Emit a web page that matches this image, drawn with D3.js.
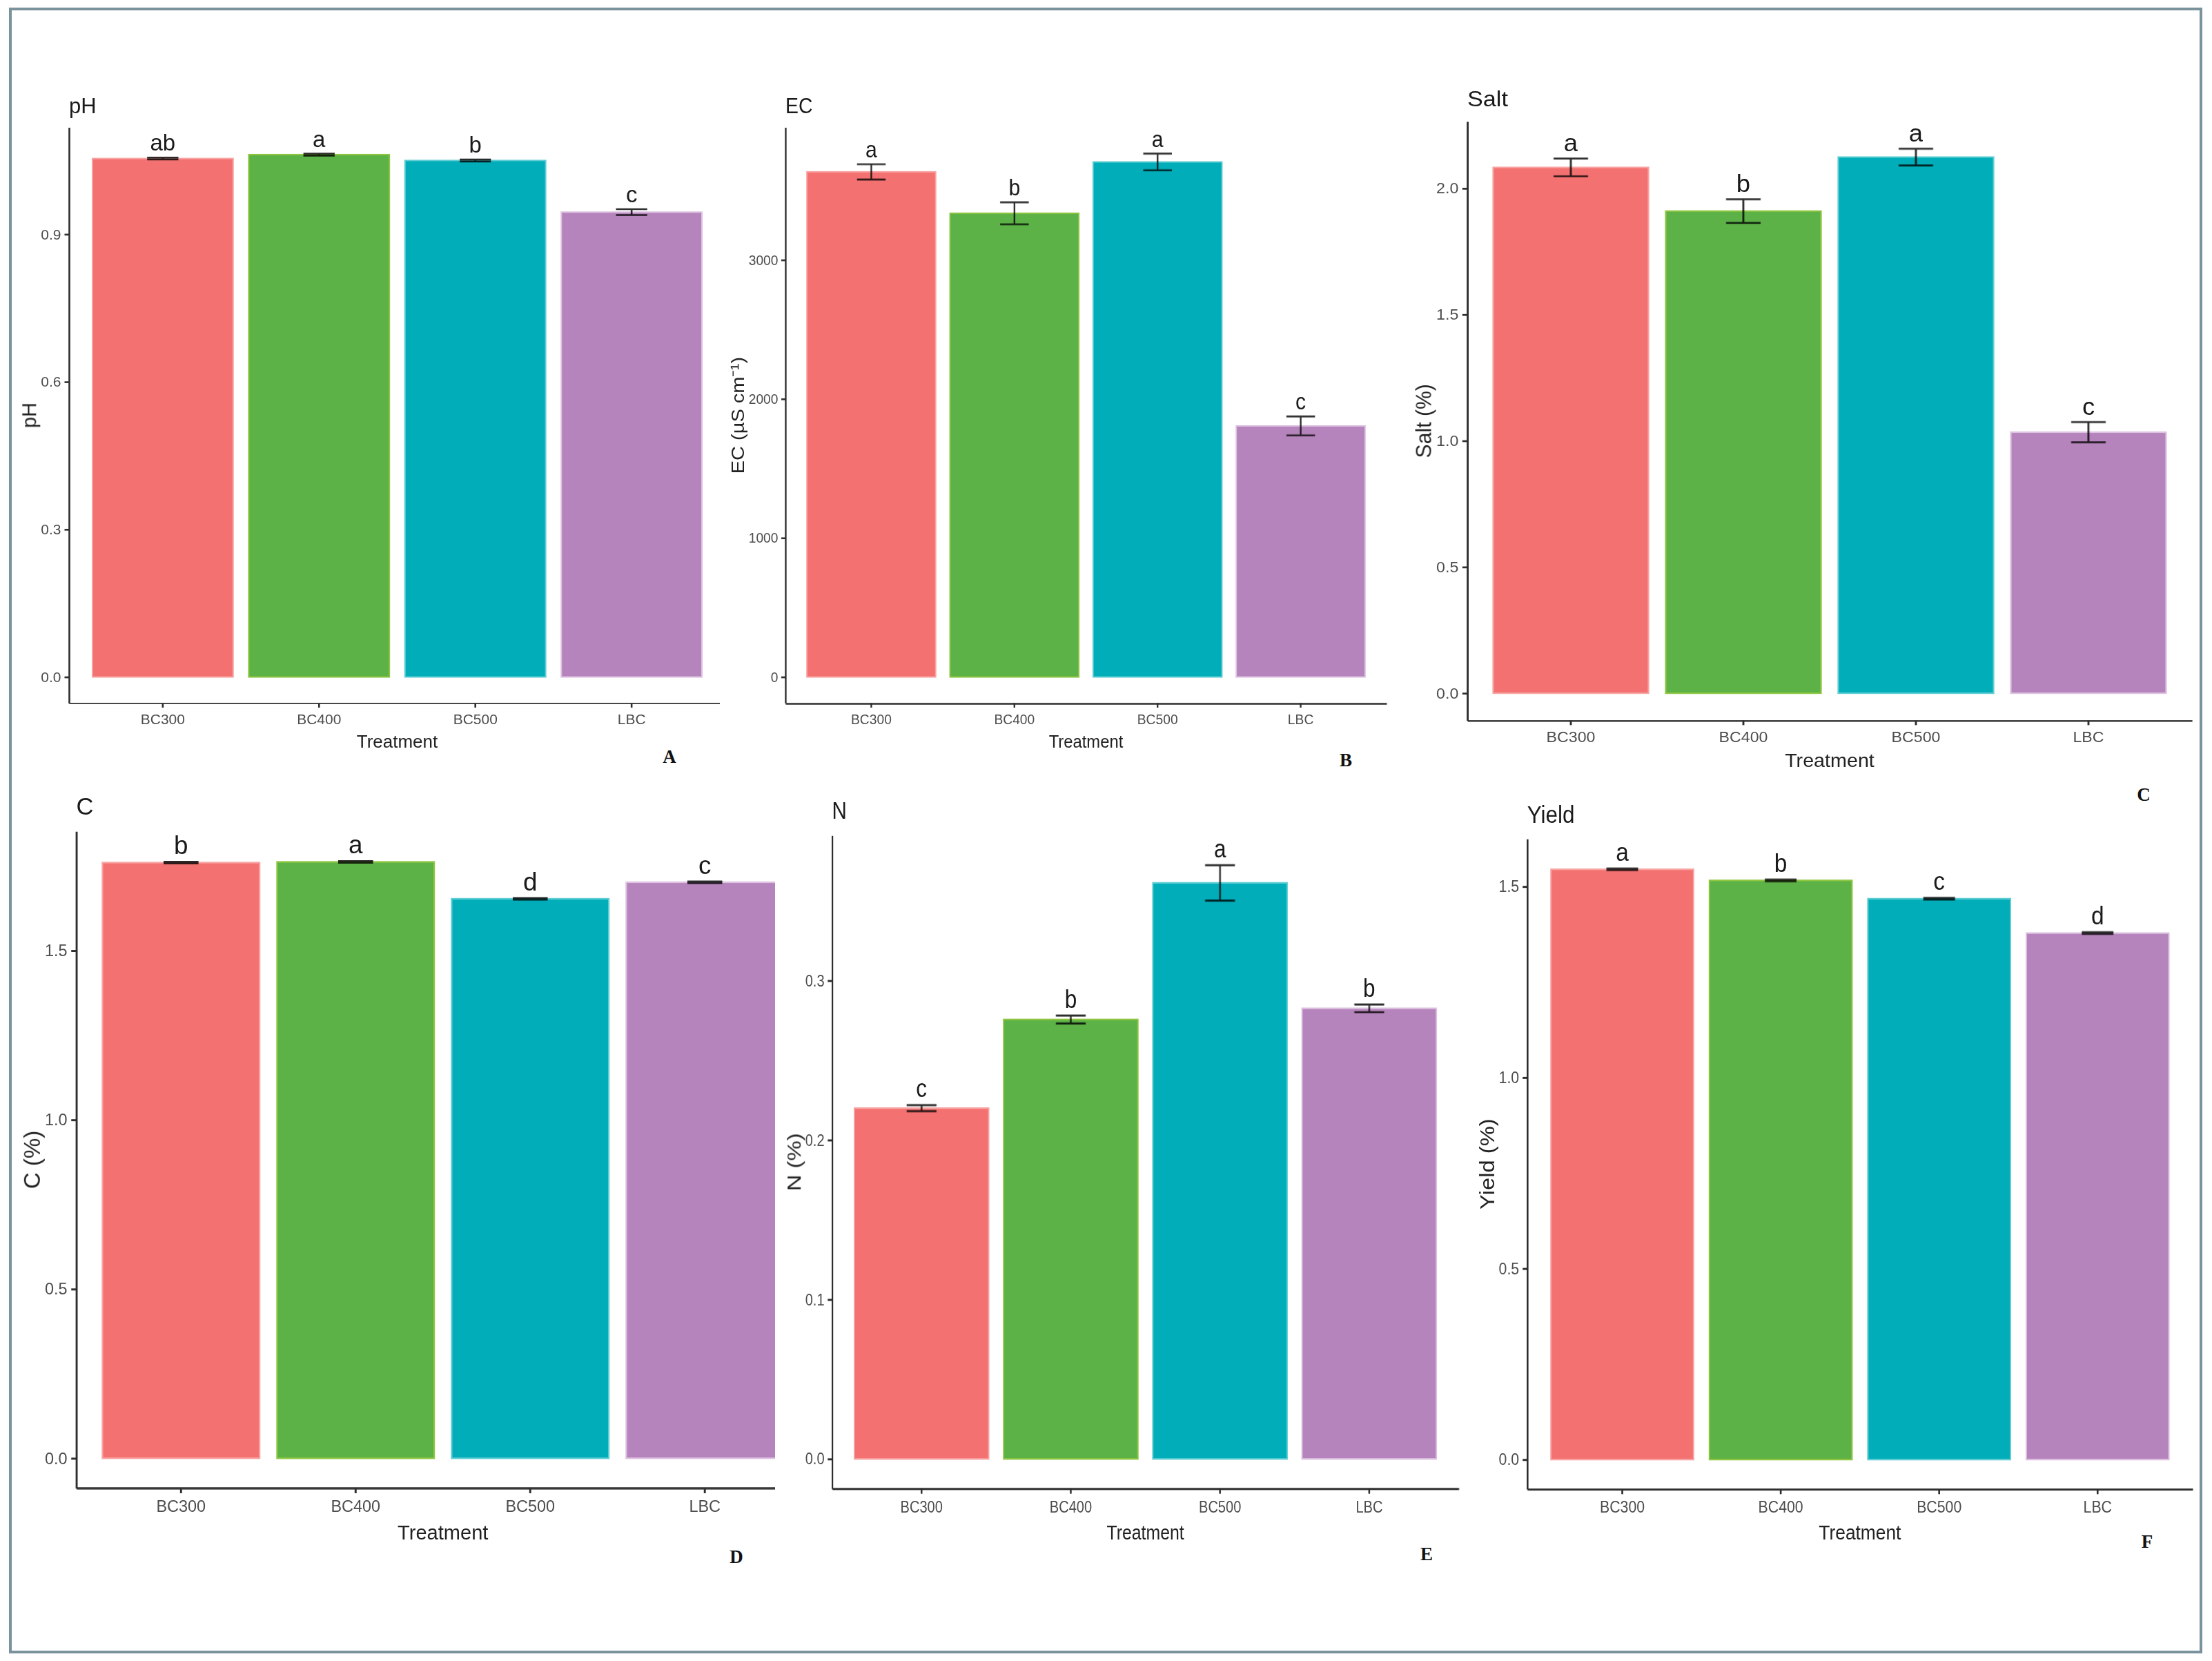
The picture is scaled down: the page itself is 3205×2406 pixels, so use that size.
<!DOCTYPE html>
<html>
<head>
<meta charset="utf-8">
<script src="https://cdn.jsdelivr.net/npm/d3@7"></script>
<style>
  html, body { margin: 0; padding: 0; background: #fff; }
  svg { display: block; }
</style>
</head>
<body>
<div id="chart"></div>
<script>
// ---- data ----
const treatments = ['BC300', 'BC400', 'BC500', 'LBC'];
const barColors = ['#F37271', '#5DB247', '#00ADB8', '#B684BC'];
const barEdges = ['#F7A3A2', '#8EC641', '#5ECDD3', '#DCC1E0'];

const phMean = [1.054, 1.062, 1.050, 0.945];
const phSe = [0.002, 0.002, 0.002, 0.006];
const phLetters = ['ab', 'a', 'b', 'c'];
const phTicks = ['0.0', '0.3', '0.6', '0.9'];

const ecMean = [3634, 3336, 3705, 1806];
const ecSe = [55, 79, 60, 68];
const ecLetters = ['a', 'b', 'a', 'c'];
const ecTicks = ['0', '1000', '2000', '3000'];

const saltMean = [2.083, 1.910, 2.124, 1.034];
const saltSe = [0.035, 0.047, 0.033, 0.040];
const saltLetters = ['a', 'b', 'a', 'c'];
const saltTicks = ['0.0', '0.5', '1.0', '1.5', '2.0'];

const cMean = [1.760, 1.762, 1.653, 1.702];
const cSe = [0.002, 0.002, 0.002, 0.002];
const cLetters = ['b', 'a', 'd', 'c'];
const cTicks = ['0.0', '0.5', '1.0', '1.5'];

const nMean = [0.2200, 0.2756, 0.3613, 0.2826];
const nSe = [0.0019, 0.0025, 0.0111, 0.0024];
const nLetters = ['c', 'b', 'a', 'b'];
const nTicks = ['0.0', '0.1', '0.2', '0.3'];

const yieldMean = [1.545, 1.516, 1.468, 1.378];
const yieldSe = [0.002, 0.002, 0.002, 0.002];
const yieldLetters = ['a', 'b', 'c', 'd'];
const yieldTicks = ['0.0', '0.5', '1.0', '1.5'];

const panels = [
  {title: 'pH', yTitle: 'pH', mean: phMean, se: phSe, letters: phLetters, ticks: phTicks, tag: 'A'},
  {title: 'EC', yTitle: 'EC (\u00B5S cm\u207B\u00B9)', mean: ecMean, se: ecSe, letters: ecLetters, ticks: ecTicks, tag: 'B'},
  {title: 'Salt', yTitle: 'Salt (%)', mean: saltMean, se: saltSe, letters: saltLetters, ticks: saltTicks, tag: 'C'},
  {title: 'C', yTitle: 'C (%)', mean: cMean, se: cSe, letters: cLetters, ticks: cTicks, tag: 'D'},
  {title: 'N', yTitle: 'N (%)', mean: nMean, se: nSe, letters: nLetters, ticks: nTicks, tag: 'E'},
  {title: 'Yield', yTitle: 'Yield (%)', mean: yieldMean, se: yieldSe, letters: yieldLetters, ticks: yieldTicks, tag: 'F'}
];

// ---- layout: where each panel's plot area sits on the page ----
// every panel is drawn in the same nominal box and then stretched into place
const W = 951, H = 834;
const layout = [
  {left: 100, top: 184.6, right: 1051, bottom: 1018.5, clip: 1043, tagX: 970, tagY: 1105},
  {left: 1138, top: 184.6, right: 2009, bottom: 1018.5, tagX: 1950, tagY: 1110},
  {left: 2126, top: 176, right: 3176, bottom: 1043.6, tagX: 3106, tagY: 1160},
  {left: 110.5, top: 1204.3, right: 1173, bottom: 2155.6, clip: 1123, tagX: 1067, tagY: 2264},
  {left: 1205.5, top: 1210.2, right: 2113.6, bottom: 2156.3, tagX: 2067, tagY: 2260},
  {left: 2212.8, top: 1215.3, right: 3177, bottom: 2157, tagX: 3111, tagY: 2242}
];

const FONT = "'Liberation Sans', Arial, sans-serif";
const SERIF = "'Liberation Serif', 'Times New Roman', serif";

const svg = d3.select('#chart')
  .append('svg')
    .attr('width', 3205)
    .attr('height', 2406);
svg.append('rect').attr('width', 3205).attr('height', 2406).attr('fill', '#fff');
const defs = svg.append('defs');

// outer frame
svg.append('rect')
  .attr('x', 15).attr('y', 13)
  .attr('width', 3174).attr('height', 2380)
  .attr('fill', 'none')
  .attr('stroke', '#7a929c')
  .attr('stroke-width', 4);

function drawPanel(p, box, idx) {
  const kx = (box.right - box.left) / W;
  const ky = (box.bottom - box.top) / H;

  // ggplot style: 5% expansion of the data range, discrete x with 0.6 step margins
  const peak = d3.max(p.mean, (m, i) => m + p.se[i]);
  const y = d3.scaleLinear().domain([-0.05 * peak, 1.05 * peak]).range([H, 0]);
  const x = d3.scaleBand()
    .domain(treatments)
    .range([0, W])
    .paddingInner(0.1)
    .paddingOuter(0.15);

  const outer = svg.append('g');
  if (box.clip) {
    const id = 'clip' + idx;
    defs.append('clipPath').attr('id', id)
      .append('rect')
        .attr('x', 0).attr('y', 0)
        .attr('width', box.clip).attr('height', 2406);
    outer.attr('clip-path', `url(#${id})`);
  }
  const g = outer.append('g')
    .attr('transform', `translate(${box.left},${box.top}) scale(${kx},${ky})`);

  // bars
  g.selectAll('rect.bar')
    .data(p.mean)
    .join('rect')
      .attr('class', 'bar')
      .attr('x', (d, i) => x(treatments[i]))
      .attr('width', x.bandwidth())
      .attr('y', d => y(d))
      .attr('height', d => y(0) - y(d))
      .attr('fill', (d, i) => barColors[i])
      .attr('stroke', (d, i) => barEdges[i])
      .attr('stroke-width', 2);

  // error bars (multiplied so the part inside a bar takes its tint)
  const capHalf = x.step() * 0.1;
  const eb = g.append('g')
    .style('mix-blend-mode', 'multiply')
    .attr('stroke', '#2e2e2e')
    .attr('stroke-width', 2.6)
    .attr('fill', 'none');
  p.mean.forEach((m, i) => {
    const cx = x(treatments[i]) + x.bandwidth() / 2;
    const lo = y(m - p.se[i]), hi = y(m + p.se[i]);
    eb.append('path')
      .attr('d', `M${cx - capHalf},${hi}H${cx + capHalf}M${cx},${hi}V${lo}M${cx - capHalf},${lo}H${cx + capHalf}`);
  });

  // significance letters
  g.selectAll('text.sig')
    .data(p.letters)
    .join('text')
      .attr('class', 'sig')
      .attr('x', (d, i) => x(treatments[i]) + x.bandwidth() / 2)
      .attr('y', (d, i) => y(p.mean[i] + p.se[i]) - 10)
      .attr('text-anchor', 'middle')
      .attr('font-family', FONT)
      .attr('font-size', 33)
      .attr('fill', '#1a1a1a')
      .text(d => d);

  // axes
  const yAxis = g.append('g')
    .call(d3.axisLeft(y)
      .tickValues(p.ticks.map(Number))
      .tickFormat((d, i) => p.ticks[i])
      .tickSize(6.5)
      .tickSizeOuter(0)
      .tickPadding(5));
  const xAxis = g.append('g')
    .attr('transform', `translate(0,${H})`)
    .call(d3.axisBottom(x)
      .tickSize(6.5)
      .tickSizeOuter(0)
      .tickPadding(9));
  [yAxis, xAxis].forEach(a => {
    a.attr('font-family', FONT).attr('font-size', 21);
    a.select('.domain').attr('stroke', '#2e2e2e').attr('stroke-width', 2.6);
    a.selectAll('.tick line').attr('stroke', '#2e2e2e').attr('stroke-width', 2.6);
    a.selectAll('.tick text').attr('fill', '#4d4d4d');
  });

  // titles
  g.append('text')
    .attr('x', 0)
    .attr('y', -21)
    .attr('font-family', FONT)
    .attr('font-size', 31)
    .attr('fill', '#1a1a1a')
    .text(p.title);

  g.append('text')
    .attr('x', W / 2)
    .attr('y', H + 65)
    .attr('text-anchor', 'middle')
    .attr('font-family', FONT)
    .attr('font-size', 26)
    .attr('fill', '#222')
    .text('Treatment');

  const yb = yAxis.node().getBBox();
  g.append('text')
    .attr('transform', `translate(${yb.x - 17},${H / 2}) rotate(-90)`)
    .attr('dy', '0.35em')
    .attr('text-anchor', 'middle')
    .attr('font-family', FONT)
    .attr('font-size', 29)
    .attr('fill', '#222')
    .text(p.yTitle);

  // panel tag
  svg.append('text')
    .attr('x', box.tagX)
    .attr('y', box.tagY)
    .attr('text-anchor', 'middle')
    .attr('font-family', SERIF)
    .attr('font-weight', 'bold')
    .attr('font-size', 27)
    .attr('fill', '#111')
    .text(p.tag);
}

panels.forEach((p, i) => drawPanel(p, layout[i], i));
</script>
</body>
</html>
